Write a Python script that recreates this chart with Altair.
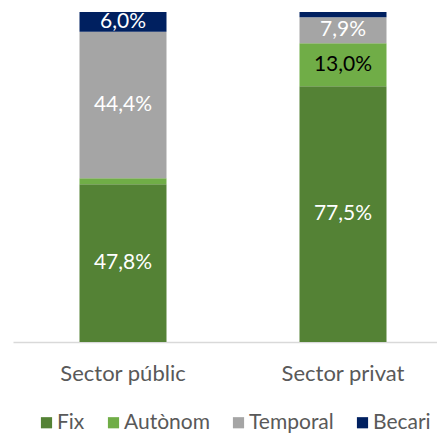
import altair as alt
import pandas as pd

sectors = ["Sector públic", "Sector privat"]
types = ["Fix", "Autònom", "Temporal", "Becari"]
colors = ["#548235", "#70AD47", "#A5A5A5", "#002060"]
public_vals = [47.8, 1.8, 44.4, 6.0]
private_vals = [77.5, 13.0, 7.9, 1.6]
label_colors = ["#FFFFFF", "#000000", "#FFFFFF", "#FFFFFF"]
min_label = 3.0

rows = []
for s, vals in zip(sectors, [public_vals, private_vals]):
    for i, (t, v) in enumerate(zip(types, vals)):
        rows.append(dict(
            sector=s, tipo=t, value=v, ord=i,
            label=(f"{v:.1f}%".replace(".", ",") if v >= min_label else ""),
            lc=label_colors[i]))
df = pd.DataFrame(rows)

FONT = "Lato"
GREY = "#595959"

base = alt.Chart(df).transform_stack(
    stack="value", groupby=["sector"], sort=[alt.SortField("ord")], as_=["v0", "v1"]
).transform_calculate(mid="(datum.v0 + datum.v1) / 2")

xscale = alt.Scale(paddingInner=0, paddingOuter=0, range=[1, 441])

x = alt.X("sector:N", sort=sectors, title=None, scale=xscale,
          axis=alt.Axis(labelAngle=0, labelFont=FONT, labelFontSize=22, labelColor=GREY,
                        labelPadding=21, ticks=False, domainColor="#D9D9D9", domainWidth=1.5))

bars = base.mark_bar(size=87).encode(
    x=x,
    y=alt.Y("v0:Q", scale=alt.Scale(domain=[0, 100]), axis=None),
    y2="v1:Q",
    color=alt.Color("tipo:N", sort=types,
                    scale=alt.Scale(domain=types, range=colors),
                    legend=alt.Legend(title=None, orient="none", direction="horizontal",
                                      legendX=24, legendY=400, padding=0,
                                      symbolType="square", symbolSize=125, symbolStrokeWidth=0,
                                      labelFont=FONT, labelFontSize=21, labelColor=GREY,
                                      labelOffset=0, columnPadding=18)),
)

labels = base.mark_text(font=FONT, fontSize=21, baseline="middle").encode(
    x=alt.X("sector:N", sort=sectors, scale=xscale),
    y=alt.Y("mid:Q"),
    text="label:N",
    color=alt.Color("lc:N", scale=None),
)

chart = alt.layer(bars, labels).resolve_scale(color="independent").properties(
    width=425, height=330,
    padding={"left": 4, "top": 4, "right": 0, "bottom": 93},
    autosize=alt.AutoSizeParams(type="none"),
).configure_view(stroke=None)

chart.save("out.html", embed_options={"renderer": "svg", "actions": False})
